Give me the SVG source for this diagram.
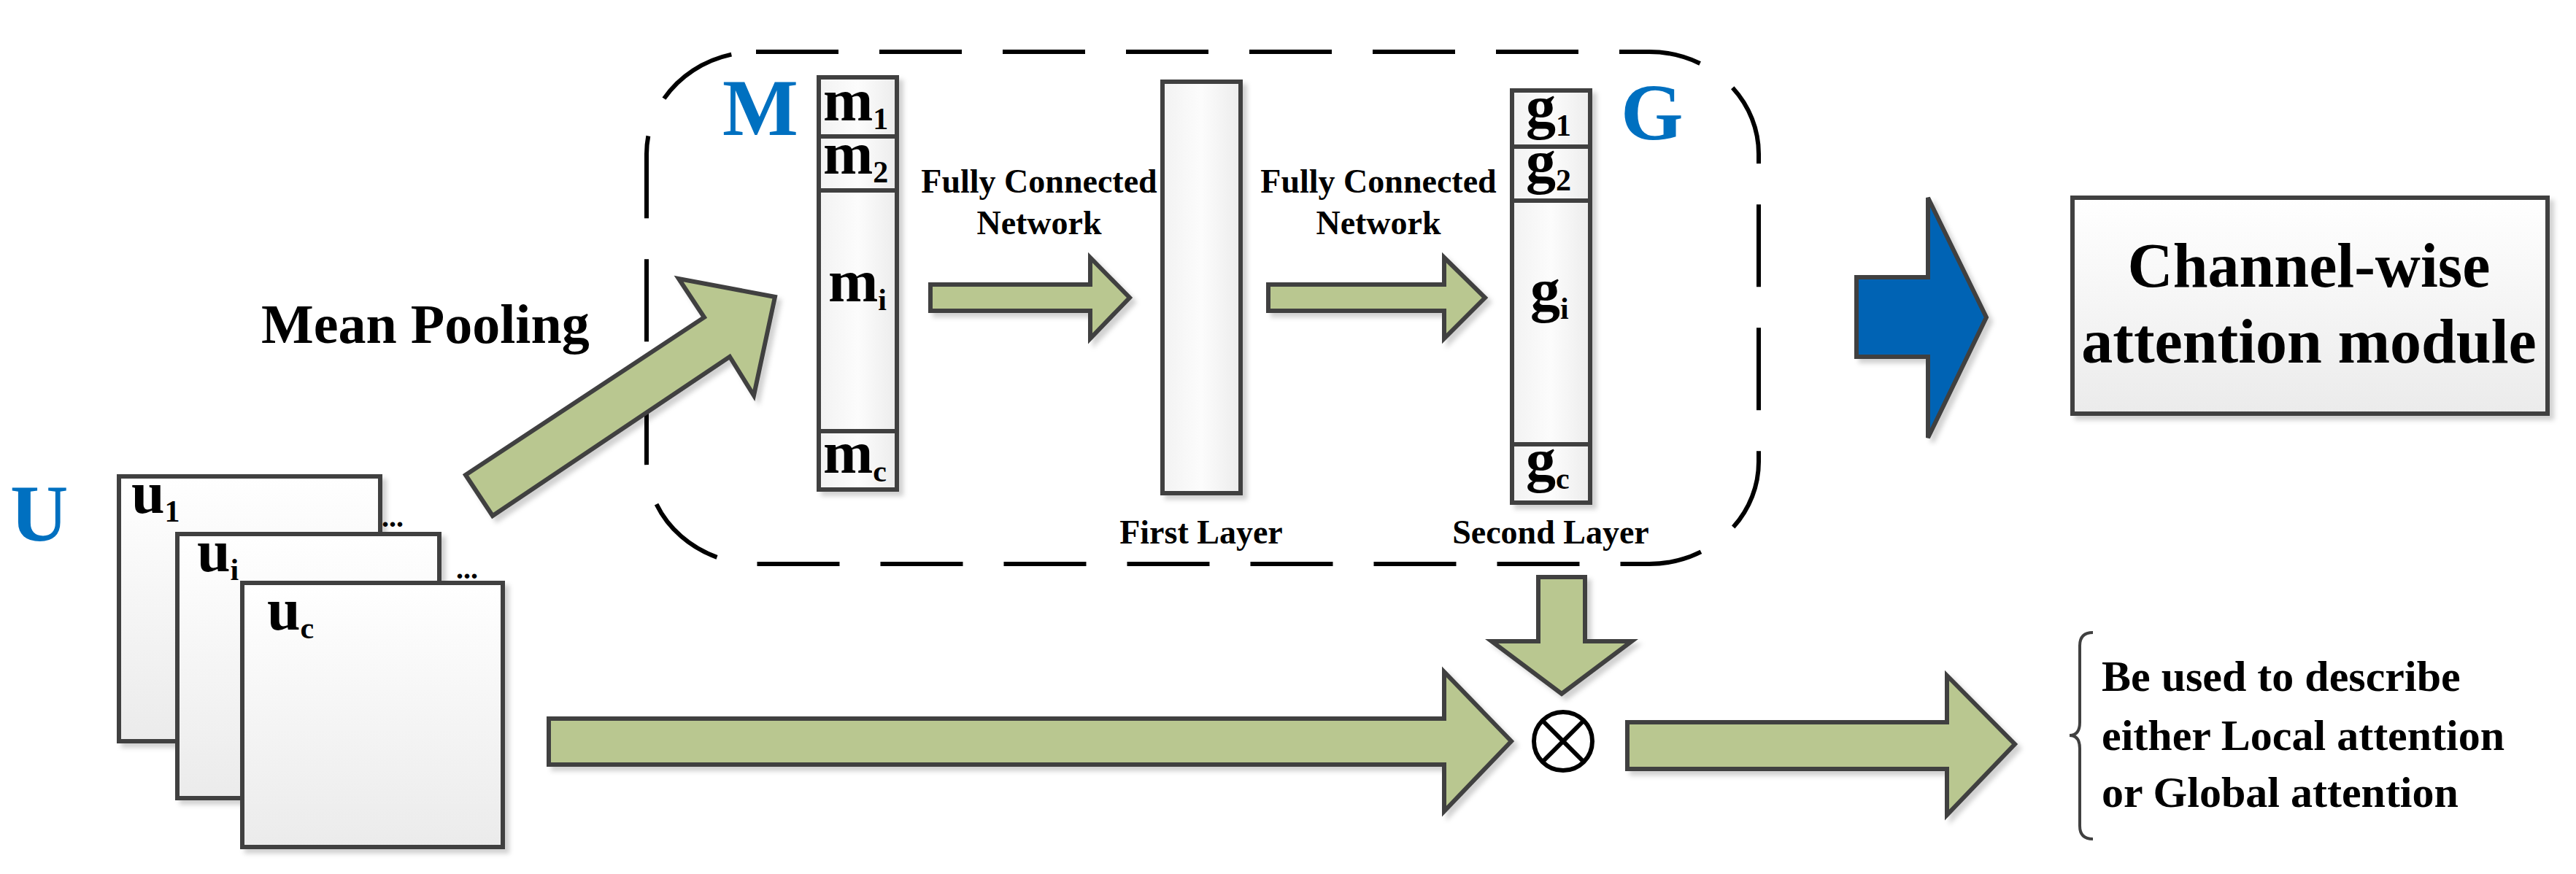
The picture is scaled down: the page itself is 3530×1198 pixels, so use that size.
<svg xmlns="http://www.w3.org/2000/svg" width="3530" height="1198" viewBox="0 0 3530 1198">
<defs>
<linearGradient id="pg" x1="0" y1="0" x2="0" y2="1"><stop offset="0" stop-color="#ffffff"/><stop offset="1" stop-color="#ebebeb"/></linearGradient>
<linearGradient id="cg" x1="0" y1="0" x2="1" y2="0"><stop offset="0" stop-color="#f2f2f2"/><stop offset="0.5" stop-color="#fcfcfc"/><stop offset="1" stop-color="#ececec"/></linearGradient>
<filter id="sh" x="-10%" y="-10%" width="130%" height="130%"><feDropShadow dx="6" dy="6" stdDeviation="3" flood-color="#000" flood-opacity="0.18"/></filter>
<style>
text{font-family:"Liberation Serif","Times New Roman",serif;font-weight:bold;fill:#000}
.blue{fill:#0070C0}
.arr{fill:#B9C790;stroke:#404040;stroke-width:6;stroke-linejoin:miter;filter:url(#sh)}
.box{fill:url(#pg);stroke:#404040;stroke-width:6;filter:url(#sh)}
.col{fill:url(#cg);stroke:#404040;stroke-width:6;filter:url(#sh)}
.lbl{font-size:82px}
.sub{font-size:42px}
.fc{font-size:46px;text-anchor:middle}
</style>
</defs>
<rect width="3530" height="1198" fill="#fff"/>
<rect x="886" y="71" width="1524" height="702" rx="150" ry="140" fill="none" stroke="#000" stroke-width="6" stroke-dasharray="113 56"/>
<g id="U-label"><text x="14" y="741" class="blue" font-size="110">U</text></g>
<g id="pages">
<rect class="box" x="163" y="653" width="358" height="363"/>
<text class="lbl" x="180" y="703">u<tspan class="sub" dy="12">1</tspan></text>
<text x="523" y="722" font-size="40">...</text>
<rect class="box" x="243" y="732" width="359" height="362"/>
<text class="lbl" x="270" y="783">u<tspan class="sub" dy="12">i</tspan></text>
<text x="625" y="793" font-size="40">...</text>
<rect class="box" x="332" y="799" width="357" height="362"/>
<text class="lbl" x="366" y="863">u<tspan class="sub" dy="12">c</tspan></text>
</g>
<g id="mean-pooling"><text x="358" y="470" font-size="76">Mean Pooling</text></g>
<g id="M">
<text x="990" y="185" class="blue" font-size="110">M</text>
<rect class="col" x="1122" y="106" width="107" height="565"/>
<line x1="1122" y1="187" x2="1229" y2="187" stroke="#404040" stroke-width="6"/>
<line x1="1122" y1="261" x2="1229" y2="261" stroke="#404040" stroke-width="6"/>
<line x1="1122" y1="591" x2="1229" y2="591" stroke="#404040" stroke-width="6"/>
<text class="lbl" x="1128" y="165">m<tspan class="sub" dy="12">1</tspan></text>
<text class="lbl" x="1128" y="238">m<tspan class="sub" dy="12">2</tspan></text>
<text class="lbl" x="1135" y="413">m<tspan class="sub" dy="12">i</tspan></text>
<text class="lbl" x="1128" y="648">m<tspan class="sub" dy="12">c</tspan></text>
</g>
<g id="first-layer">
<rect class="col" x="1593" y="112" width="107" height="564"/>
<text class="fc" x="1646" y="745">First Layer</text>
</g>
<g id="G">
<text x="2221" y="191" class="blue" font-size="110">G</text>
<rect class="col" x="2072" y="124" width="107" height="565"/>
<line x1="2072" y1="201" x2="2179" y2="201" stroke="#404040" stroke-width="6"/>
<line x1="2072" y1="275" x2="2179" y2="275" stroke="#404040" stroke-width="6"/>
<line x1="2072" y1="609" x2="2179" y2="609" stroke="#404040" stroke-width="6"/>
<text class="lbl" x="2091" y="174">g<tspan class="sub" dy="12">1</tspan></text>
<text class="lbl" x="2091" y="249">g<tspan class="sub" dy="12">2</tspan></text>
<text class="lbl" x="2097" y="425">g<tspan class="sub" dy="12">i</tspan></text>
<text class="lbl" x="2091" y="658">g<tspan class="sub" dy="12">c</tspan></text>
<text class="fc" x="2125" y="745">Second Layer</text>
</g>
<g id="channel-box">
<rect class="box" x="2840" y="271" width="651" height="296"/>
<text x="3164" y="393" font-size="86" text-anchor="middle">Channel-wise</text>
<text x="3164" y="497" font-size="86" text-anchor="middle">attention module</text>
</g>
<g id="otimes">
<circle cx="2142" cy="1016" r="40" fill="#fff" stroke="#000" stroke-width="6"/>
<line x1="2114" y1="988" x2="2170" y2="1044" stroke="#000" stroke-width="6"/>
<line x1="2170" y1="988" x2="2114" y2="1044" stroke="#000" stroke-width="6"/>
</g>
<g id="output-text">
<path d="M2868,867 Q2850,867 2850,885 L2850,990 Q2850,1008 2836,1008 Q2850,1008 2850,1026 L2850,1132 Q2850,1150 2868,1150" fill="none" stroke="#404040" stroke-width="4"/>
<text x="2880" y="947" font-size="60">Be used to describe</text>
<text x="2880" y="1028" font-size="60">either Local attention</text>
<text x="2880" y="1106" font-size="60">or Global attention</text>
</g>
<g id="connectors">
<polygon class="arr" points="638,651 965,435 930,382 1062,407 1033,542 1000,489 675,707"/>
<polygon class="arr" points="1275,390 1494,390 1494,353 1548,408 1494,464 1494,426 1275,426"/>
<text class="fc" x="1424" y="264">Fully Connected</text>
<text class="fc" x="1424" y="321">Network</text>
<polygon class="arr" points="1738,390 1979,390 1979,353 2035,408 1979,464 1979,426 1738,426"/>
<text class="fc" x="1889" y="264">Fully Connected</text>
<text class="fc" x="1889" y="321">Network</text>
<polygon class="arr" points="752,985 1979,985 1979,921 2071,1016 1979,1112 1979,1048 752,1048"/>
<polygon class="arr" points="2108,791 2172,791 2172,879 2236,879 2140,951 2044,879 2108,879"/>
<polygon class="arr" points="2230,990 2668,990 2668,926 2761,1020 2668,1117 2668,1054 2230,1054"/>
<polygon points="2544,380 2642,380 2642,271 2722,435 2642,600 2642,489 2544,489" fill="#0064B4" stroke="#404040" stroke-width="6" filter="url(#sh)"/>
</g>
</svg>
